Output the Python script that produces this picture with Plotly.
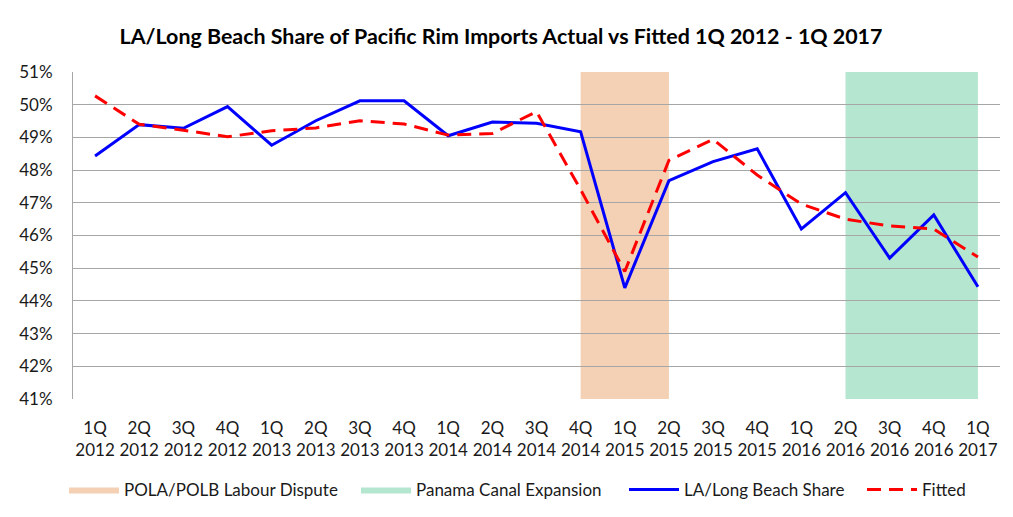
"""LA/Long Beach share of Pacific Rim imports, actual vs fitted."""
import plotly.graph_objects as go

quarters = [
    "1Q 2012", "2Q 2012", "3Q 2012", "4Q 2012",
    "1Q 2013", "2Q 2013", "3Q 2013", "4Q 2013",
    "1Q 2014", "2Q 2014", "3Q 2014", "4Q 2014",
    "1Q 2015", "2Q 2015", "3Q 2015", "4Q 2015",
    "1Q 2016", "2Q 2016", "3Q 2016", "4Q 2016",
    "1Q 2017",
]

actual_share = [
    48.43, 49.39, 49.28, 49.94, 48.76, 49.51, 50.12, 50.12, 49.05, 49.47,
    49.43, 49.17, 44.40, 47.68, 48.26, 48.65, 46.20, 47.31, 45.31, 46.63,
    44.43,
]

fitted_share = [
    50.27, 49.40, 49.22, 49.02, 49.20, 49.29, 49.51, 49.41, 49.07, 49.12,
    49.79, 47.40, 44.90, 48.30, 48.94, 47.85, 46.96, 46.50, 46.29, 46.20,
    45.34,
]

# shaded periods: (name, first quarter, last quarter, colour)
periods = [
    ("POLA/POLB Labour Dispute", "4Q 2014", "2Q 2015", "#F4D1B4"),
    ("Panama Canal Expansion", "2Q 2016", "1Q 2017", "#B5E6CF"),
]

labels = [q.replace(" ", "<br>") for q in quarters]
FONT = "Lato"

# the html page has an 8px body margin, so the figure is shrunk by that much
# and positions below are page pixels minus the offset
OFF = 8
W, H = 1013 - OFF, 517 - OFF

# each legend entry gets its own legend box so the spacing matches
legend_x = [64, 356, 624, 862]

fig = go.Figure()

for i, (name, start, end, color) in enumerate(periods):
    fig.add_shape(
        type="rect", xref="x", yref="paper", layer="below",
        x0=quarters.index(start), x1=quarters.index(end), y0=0, y1=1,
        fillcolor=color, line_width=0,
    )
    # legend entry only
    fig.add_trace(go.Scatter(
        x=[None], y=[None], mode="lines", name=name,
        fill="toself", fillcolor=color, line=dict(color=color, width=0),
        legend="legend" if i == 0 else f"legend{i + 1}",
    ))

fig.add_trace(go.Scatter(
    x=labels, y=actual_share, mode="lines", name="LA/Long Beach Share",
    line=dict(color="#0000FF", width=3), legend="legend3",
))
fig.add_trace(go.Scatter(
    x=labels, y=fitted_share, mode="lines", name="Fitted",
    line=dict(color="#FF0000", width=3, dash="14px,8px"), legend="legend4",
))

# chart frame (only the top/left edges are inside the picture)
fig.add_shape(
    type="rect", xref="paper", yref="paper",
    x0=-0.0717, x1=1.02, y0=-0.45, y1=1.205,
    line=dict(color="#BFBFBF", width=1.5), fillcolor="rgba(0,0,0,0)",
)

legend_style = dict(
    orientation="h", xref="container", yref="container",
    xanchor="left", yanchor="middle", y=1 - (490 - OFF) / H,
    font=dict(size=17), itemwidth=50, bgcolor="rgba(0,0,0,0)",
)

fig.update_layout(
    width=W, height=H,
    margin=dict(l=73 - OFF, r=13, t=72 - OFF, b=118),
    paper_bgcolor="white", plot_bgcolor="white",
    font=dict(family=FONT, size=17, color="#1a1a1a"),
    title=dict(
        text="<b>LA/Long Beach Share of Pacific Rim Imports Actual vs Fitted 1Q 2012 - 1Q 2017</b>",
        x=(501 - OFF) / W, xanchor="center", yref="container", y=1 - (37 - OFF) / H,
        yanchor="middle",
        font=dict(family=FONT, size=21.4, color="#000000"),
    ),
    xaxis=dict(
        type="category", range=[-0.5, len(quarters) - 0.5],
        showgrid=False, showline=False, ticks="", automargin=False,
        tickfont=dict(size=17), ticklabelstandoff=17,
    ),
    yaxis=dict(
        range=[41, 51], dtick=1, ticksuffix="%", automargin=False,
        showgrid=True, gridcolor="#A6A6A6", gridwidth=1,
        showline=True, linecolor="#A6A6A6", linewidth=1,
        zeroline=False, ticks="", tickfont=dict(size=17), ticklabelstandoff=16,
    ),
    legend=dict(legend_style, x=(legend_x[0] - OFF) / W),
    legend2=dict(legend_style, x=(legend_x[1] - OFF) / W),
    legend3=dict(legend_style, x=(legend_x[2] - OFF) / W),
    legend4=dict(legend_style, x=(legend_x[3] - OFF) / W),
    showlegend=True,
)

fig.write_html("out.html")
